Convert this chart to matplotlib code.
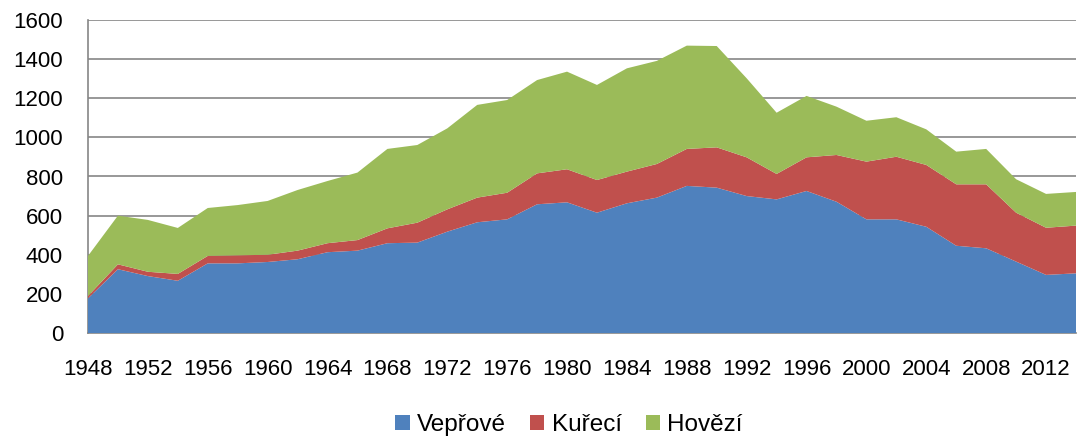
import numpy as np
import matplotlib.pyplot as plt

years = list(range(1948, 2015, 2))

# spotreba masa
veprove = [177, 326, 291, 267, 356, 356, 363, 377, 413, 421, 459, 462,
           518, 566, 581, 658, 668, 615, 663, 692, 752, 743,
           700, 683, 726, 671, 581, 581, 543, 446, 433, 365, 297, 305]
kureci_top = [189, 351, 313, 302, 394, 397, 400, 421, 459, 475, 535, 564,
              632, 692, 717, 816, 837, 782, 825, 864, 941, 949,
              898, 813, 898, 910, 876, 901, 859, 760, 760, 615, 538, 549]
celkem = [394, 600, 578, 537, 639, 654, 675, 731, 777, 820, 941, 961,
          1046, 1166, 1191, 1293, 1336, 1268, 1353, 1391, 1469, 1467,
          1302, 1126, 1212, 1157, 1085, 1103, 1041, 927, 941, 786, 711, 721]

kureci = np.array(kureci_top) - np.array(veprove)
hovezi = np.array(celkem) - np.array(kureci_top)

labels = ["Vepřové", "Kuřecí", "Hovězí"]
colors = ["#4F81BD", "#C0504D", "#9BBB59"]

plt.rcParams['font.family'] = ['Liberation Sans', 'DejaVu Sans']

fig = plt.figure(figsize=(10.78, 4.36), dpi=100)
ax = fig.add_axes([88 / 1078, 1 - 333 / 436, (1076 - 88) / 1078, (333 - 20) / 436])

ax.stackplot(years, veprove, kureci, hovezi, labels=labels, colors=colors,
             linewidth=0, zorder=3)

ax.set_xlim(1948, 2014)
ax.set_ylim(0, 1600)
ax.set_yticks(range(0, 1601, 200))
ax.set_xticks(range(1948, 2013, 4))
ax.tick_params(axis='both', length=0, labelsize=16, colors='black')
ax.tick_params(axis='y', pad=18)
ax.tick_params(axis='x', pad=19)

ax.grid(axis='y', color='#868686', linewidth=1.2, zorder=0)
for side in ['top', 'right']:
    ax.spines[side].set_visible(False)
for side in ['left', 'bottom']:
    ax.spines[side].set_color('#868686')
    ax.spines[side].set_linewidth(1.2)

fig.legend(loc='center', bbox_to_anchor=(569 / 1078, 1 - 425 / 436), ncol=3,
           frameon=False, fontsize=17.5, handlelength=0.58, handleheight=0.58,
           handletextpad=0.3, columnspacing=1.0, borderpad=0)

fig.savefig("out.png", dpi=100)
